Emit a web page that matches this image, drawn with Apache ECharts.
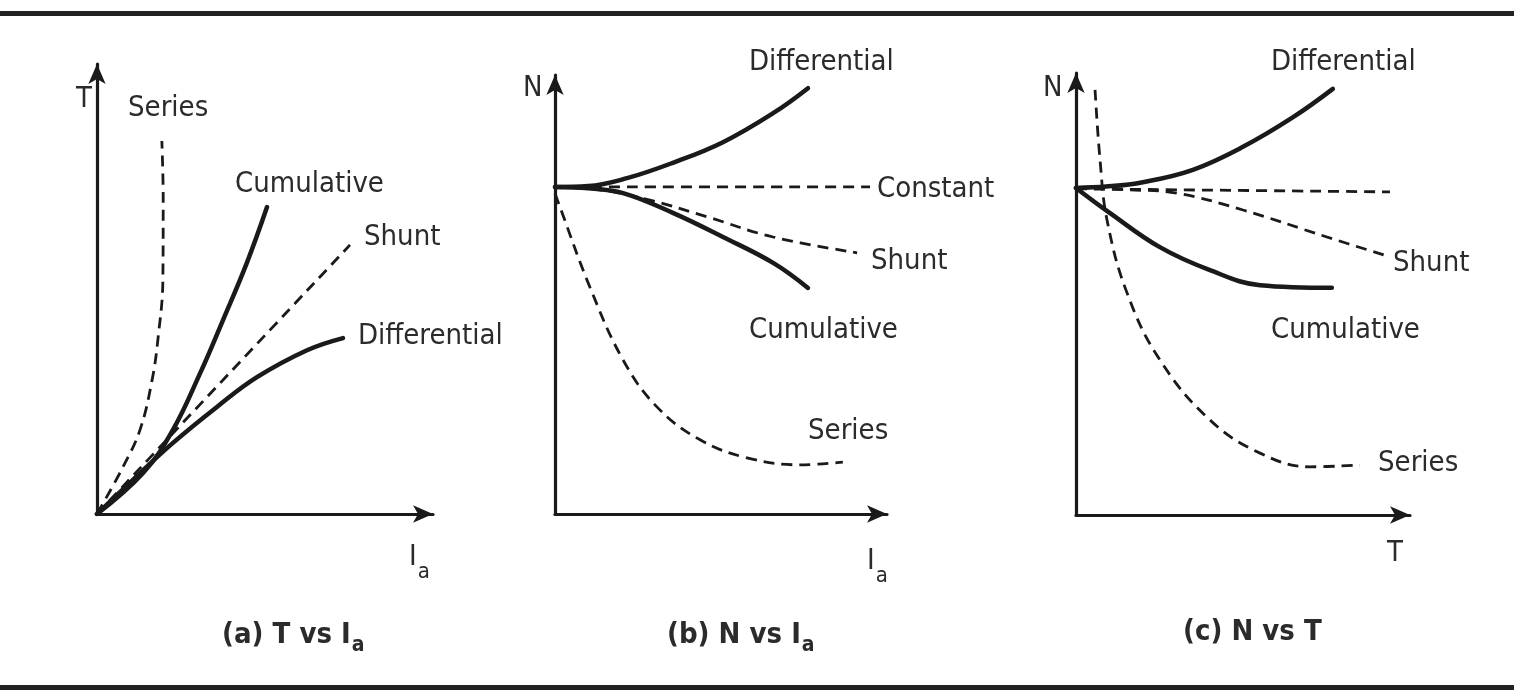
<!DOCTYPE html>
<html>
<head>
<meta charset="utf-8">
<script src="https://cdn.jsdelivr.net/npm/echarts@6/dist/echarts.min.js"></script>
<style>
html,body{margin:0;padding:0;background:#fff;}
#chart{width:1514px;height:692px;}
</style>
</head>
<body>
<div id="chart"></div>
<script>
// ---------- data (abstract units, each axis spans 0..10) ----------
// Panel (a) T vs Ia
const aSeries       = [[0,0],[0.77,1.04],[1.28,1.87],[1.64,2.98],[1.82,3.93],[1.96,5.2],[1.97,7.0],[1.93,8.29]];
const aCumulative   = [[0,0],[1.37,0.91],[2.26,1.87],[3.07,3.13],[3.75,4.31],[4.46,5.58],[5.06,6.82]];
const aShunt        = [[0,0],[7.53,5.98]];
const aDifferential = [[0,0],[1.07,0.76],[2.26,1.58],[3.57,2.38],[4.76,3.04],[6.25,3.64],[7.32,3.91]];
// Panel (b) N vs Ia
const bDifferential = [[0,7.45],[1.0,7.47],[2.17,7.65],[3.55,8.0],[5.06,8.47],[6.57,9.13],[7.62,9.70]];
const bConstant     = [[0,7.45],[9.49,7.45]];
const bShunt        = [[0,7.45],[1.4,7.38],[2.86,7.15],[4.58,6.77],[6.57,6.31],[9.10,5.95]];
const bCumulative   = [[0,7.45],[1.0,7.42],[2.05,7.31],[3.55,6.86],[5.06,6.31],[6.57,5.72],[7.62,5.15]];
const bSeries       = [[0,7.3],[0.15,6.99],[1.05,5.17],[2.05,3.51],[3.07,2.44],[4.37,1.69],[5.78,1.28],[7.38,1.12],[8.67,1.18]];
// Panel (c) N vs T
const cDifferential = [[0,7.4],[0.9,7.43],[2.0,7.53],[3.5,7.81],[5.0,8.33],[6.5,9.0],[7.69,9.64]];
const cConstant     = [[0,7.38],[9.4,7.31]];
const cShunt        = [[0,7.4],[1.5,7.36],[3.02,7.28],[5.0,6.9],[7.51,6.29],[9.4,5.84]];
const cCumulative   = [[0,7.4],[1.02,6.83],[2.51,6.06],[4.01,5.54],[5.51,5.2],[7.66,5.14]];
const cSeries       = [[0.57,9.62],[0.72,8.03],[0.93,6.67],[1.53,5.02],[2.51,3.51],[4.01,2.15],[5.51,1.4],[7.0,1.09],[8.5,1.13]];

const curveLabels = ['Series','Cumulative','Shunt','Differential','Constant'];
const captions = ['(a) T vs I','(b) N vs I','(c) N vs T'];

// ---------- styling ----------
const INK = '#1a1a1a';
const TXT = '#2b2b2b';
const FONT = "'Liberation Sans Narrow','DejaVu Sans Condensed','Liberation Sans',sans-serif";
const LBL = 29;

const grids = [
  {left:97,  top:64, width:336, height:450},
  {left:555, top:75, width:332, height:439},
  {left:1076,top:73, width:334, height:442}
];

function axisPair(i){
  const common = {
    type:'value', min:0, max:10, gridIndex:i,
    axisLine:{show:true, symbol:['none','arrow'], symbolSize:[13,20], lineStyle:{color:INK,width:3.2}},
    axisTick:{show:false}, axisLabel:{show:false}, splitLine:{show:false}
  };
  return [Object.assign({}, common), Object.assign({}, common)];
}
const xAxes=[], yAxes=[];
for(let i=0;i<3;i++){const p=axisPair(i); xAxes.push(p[0]); yAxes.push(p[1]);}

function solid(data,i){return {type:'line',xAxisIndex:i,yAxisIndex:i,data,smooth:0.4,showSymbol:false,
  lineStyle:{color:INK,width:4.5,cap:'round'}};}
function dashed(data,i){return {type:'line',xAxisIndex:i,yAxisIndex:i,data,smooth:0.4,showSymbol:false,
  lineStyle:{color:INK,width:2.8,type:[11,7]}};}

const series = [
  dashed(aSeries,0), solid(aCumulative,0), dashed(aShunt,0), solid(aDifferential,0),
  solid(bDifferential,1), dashed(bConstant,1), dashed(bShunt,1), solid(bCumulative,1), dashed(bSeries,1),
  solid(cDifferential,2), dashed(cConstant,2), dashed(cShunt,2), solid(cCumulative,2), dashed(cSeries,2)
];

const mctx = document.createElement('canvas').getContext('2d');
function measure(s,font){mctx.font=font;return mctx.measureText(s).width;}

function txt(x,y,s,size){
  return {type:'text',x:x,y:y,style:{text:s,fill:TXT,font:'normal '+(size||LBL)+'px '+FONT,
    textAlign:'left',textVerticalAlign:'middle'}};
}
function withSub(x,y,main,size,weight,subSize,dy){
  const f=(weight||'normal')+' '+size+'px '+FONT;
  const w=measure(main,f);
  return {type:'group',x:x,y:y,children:[
    {type:'text',style:{text:main,fill:TXT,font:f,textAlign:'left',textVerticalAlign:'middle'}},
    {type:'text',x:w+1,y:dy,style:{text:'a',fill:TXT,font:(weight||'normal')+' '+subSize+'px '+FONT,textAlign:'left',textVerticalAlign:'middle'}}
  ]};
}

const graphic = [
  {type:'rect',shape:{x:0,y:11,width:1514,height:5},style:{fill:'#222'}},
  {type:'rect',shape:{x:0,y:685,width:1514,height:5},style:{fill:'#222'}},
  // panel a labels
  txt(76,99,'T'),
  txt(128,108,curveLabels[0]),
  txt(235,184,curveLabels[1]),
  txt(364,237,curveLabels[2]),
  txt(358,336,curveLabels[3]),
  withSub(409,557,'I',29,'normal',22,15),
  // panel b labels
  txt(523,88,'N'),
  txt(749,62,curveLabels[3]),
  txt(877,189,curveLabels[4]),
  txt(871,261,curveLabels[2]),
  txt(749,330,curveLabels[1]),
  txt(808,431,curveLabels[0]),
  withSub(867,561,'I',29,'normal',22,15),
  // panel c labels
  txt(1043,88,'N'),
  txt(1271,62,curveLabels[3]),
  txt(1393,263,curveLabels[2]),
  txt(1271,330,curveLabels[1]),
  txt(1378,463,curveLabels[0]),
  txt(1387,553,'T'),
  // captions
  withSub(222,635,captions[0],29,'bold',21,11),
  withSub(667,635,captions[1],29,'bold',21,11),
  {type:'text',x:1183,y:632,style:{text:captions[2],fill:TXT,font:'bold 29px '+FONT,textAlign:'left',textVerticalAlign:'middle'}}
];

const chart = echarts.init(document.getElementById('chart'),null,{renderer:'canvas'});
chart.setOption({
  backgroundColor:'#fff',
  animation:false,
  grid:grids,
  xAxis:xAxes,
  yAxis:yAxes,
  series:series,
  graphic:graphic
});
</script>
</body>
</html>
